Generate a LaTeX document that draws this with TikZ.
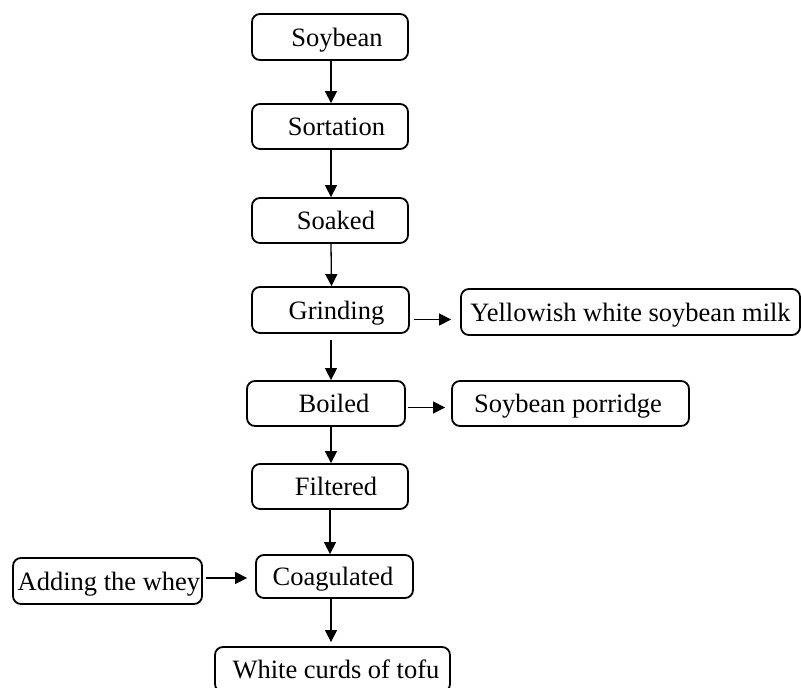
\documentclass[tikz,border=0pt]{standalone}
\usepackage{fontspec}
\setmainfont{Liberation Serif}
\usetikzlibrary{arrows.meta,calc}
\begin{document}
\begin{tikzpicture}[x=1pt,y=-1pt,
  box/.style={draw=black, line width=1.8pt, rounded corners=8pt, inner sep=0pt,
    font=\fontsize{26.5}{30}\selectfont, text height=18pt, text depth=0pt},
  arr/.style={line width=1.3pt, -{Triangle[length=12pt,width=12pt]}}]
\useasboundingbox (0,0) rectangle (801,688);
\fill[white] (0,0) rectangle (801,688);
\node[box, minimum width=156pt, minimum height=46pt] (soy) at (330,37) {\hspace*{14pt}Soybean};
\node[box, minimum width=156pt, minimum height=45pt] (sort) at (330,126.5) {\hspace*{13pt}Sortation};
\node[box, minimum width=156pt, minimum height=45pt] (soak) at (330,220.5) {\hspace*{12pt}Soaked};
\node[box, minimum width=157pt, minimum height=46pt] (grind) at (330.5,310) {\hspace*{12pt}Grinding};
\node[box, minimum width=339pt, minimum height=46pt] (milk) at (630.5,312) {Yellowish white soybean milk};
\node[box, minimum width=158pt, minimum height=45pt] (boil) at (326,403.5) {\hspace*{16pt}Boiled};
\node[box, minimum width=237pt, minimum height=45pt] (porr) at (570.5,403.5) {Soybean porridge\hspace*{5pt}};
\node[box, minimum width=156pt, minimum height=45pt] (filt) at (330,486.5) {\hspace*{12pt}Filtered};
\node[box, minimum width=157pt, minimum height=43pt] (coag) at (334.5,576.5) {Coagulated\hspace*{3pt}};
\node[box, minimum width=189pt, minimum height=46pt] (whey) at (107.5,581) {\hspace*{3pt}Adding the whey};
\node[box, minimum width=235pt, minimum height=45pt] (curds) at (332.5,669.5) {\hspace*{7pt}White curds of tofu};
\draw[arr] ([shift={(1,0)}]soy.south) -- ([shift={(1,0)}]sort.north);
\draw[arr] ([shift={(1,0)}]sort.south) -- ([shift={(1,0)}]soak.north);
\draw[arr] ([shift={(1,0)}]soak.south) -- ([shift={(1,0)}]grind.north);
\draw[arr] ([shift={(0.5,6)}]grind.south) -- ([shift={(0.5,0)}]grind.south |- boil.north);
\draw[arr] ([shift={(5,0)}]boil.south) -- ([shift={(5,0)}]boil.south |- filt.north);
\draw[arr] (filt.south) -- (filt.south |- coag.north);
\draw[arr, shorten >=4pt] ([shift={(-3.5,0)}]coag.south) -- ([shift={(-3.5,0)}]coag.south |- curds.north);
\coordinate (g1) at ([shift={(4,9.5)}]grind.east);
\draw[arr, shorten >=9pt] (g1) -- (g1 -| milk.west);
\coordinate (b1) at ([shift={(2,4)}]boil.east);
\draw[arr, shorten >=6pt] (b1) -- (b1 -| porr.west);
\coordinate (w1) at ([shift={(3,-3)}]whey.east);
\draw[arr, shorten >=8pt] (w1) -- (w1 -| coag.west);
\end{tikzpicture}
\end{document}
